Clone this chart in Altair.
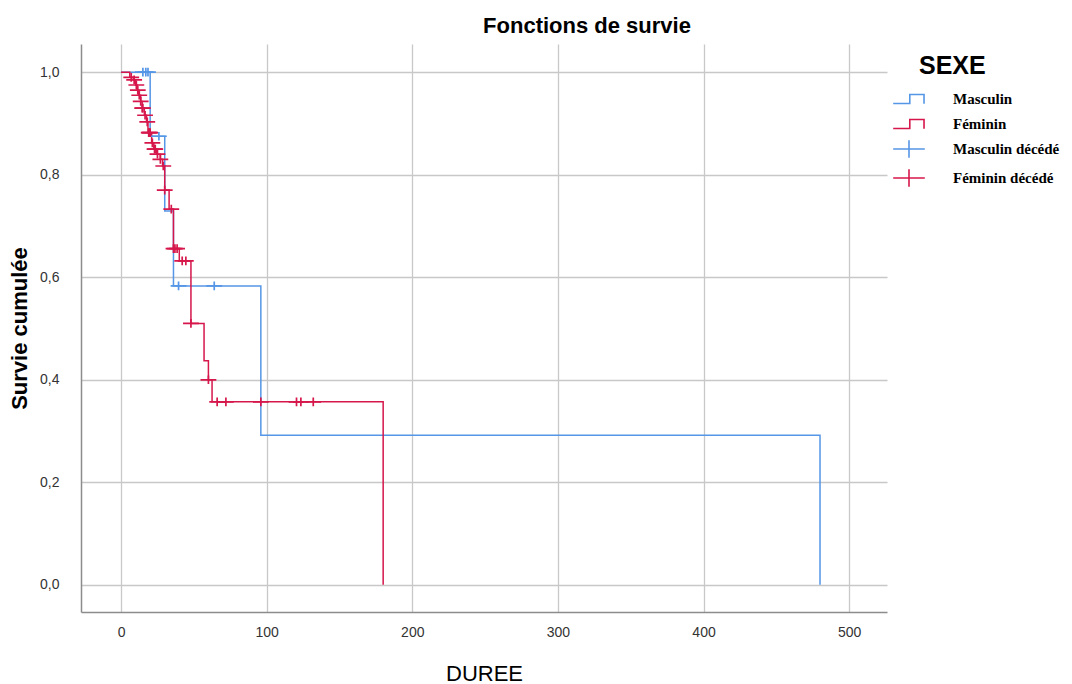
import altair as alt
import pandas as pd

# ---- data ----
categories = ["Masculin", "Féminin", "Masculin décédé", "Féminin décédé"]

# Kaplan-Meier steps (time of drop, survival after drop)
m_time = [0, 20, 30, 36, 96, 480]
m_surv = [1.0, 0.875, 0.729, 0.583, 0.292, 0.0]
m_cens_time = [15, 17, 18.5, 26, 39.5, 64]
m_cens_surv = [1.0, 1.0, 1.0, 0.875, 0.583, 0.583]

f_time = [0, 6, 8.5, 10, 11, 12, 13.5, 14.5, 16, 17.5, 18.5, 21, 22.5, 24.5, 27,
          28.5, 30, 33, 36, 40, 48, 57, 60, 62.5, 180]
f_surv = [1.0, 0.99, 0.985, 0.975, 0.965, 0.955, 0.943, 0.93, 0.916, 0.903, 0.882,
          0.862, 0.85, 0.84, 0.83, 0.817, 0.77, 0.733, 0.656, 0.632, 0.51, 0.437,
          0.40, 0.357, 0.0]
f_cens_time = [7, 9, 10.5, 11.5, 12.5, 13.5, 14.5, 15, 16.5, 18, 19, 19.5, 20, 21.5,
               23, 23.5, 25, 27, 29, 30, 34.5, 36, 37, 38.5, 42, 44.5, 48, 60, 66,
               72, 96, 120.5, 123.5, 132]
f_cens_surv = [0.99, 0.985, 0.975, 0.965, 0.955, 0.943, 0.93, 0.93, 0.916, 0.903,
               0.882, 0.882, 0.882, 0.862, 0.85, 0.85, 0.84, 0.83, 0.817, 0.77,
               0.733, 0.656, 0.656, 0.656, 0.632, 0.632, 0.51, 0.40, 0.357, 0.357,
               0.357, 0.357, 0.357, 0.357]

x_ticks = [0, 100, 200, 300, 400, 500]
y_ticks = [0.0, 0.2, 0.4, 0.6, 0.8, 1.0]

colors = ["#5596e6", "#d6174b", "#5596e6", "#d6174b"]
step_path = "M-1,0.28L0.05,0.28L0.05,-0.28L0.95,-0.28L0.95,0.3"
cross_path = "M-1,0L1,0M0,-0.55L0,0.55"
shapes = [step_path, step_path, cross_path, cross_path]

lines_df = pd.concat([
    pd.DataFrame({"t": m_time, "s": m_surv, "cat": categories[0]}),
    pd.DataFrame({"t": f_time, "s": f_surv, "cat": categories[1]}),
], ignore_index=True)
cens_df = pd.concat([
    pd.DataFrame({"t": m_cens_time, "s": m_cens_surv, "cat": categories[2]}),
    pd.DataFrame({"t": f_cens_time, "s": f_cens_surv, "cat": categories[3]}),
], ignore_index=True)

color_scale = alt.Scale(domain=categories, range=colors)
shape_scale = alt.Scale(domain=categories, range=shapes)
line_scale = alt.Scale(domain=categories[:2], range=colors[:2])

x_enc = alt.X("t:Q", scale=alt.Scale(domain=[-27.5, 526], nice=False, zero=False),
              axis=alt.Axis(values=x_ticks, title="DUREE", labelPadding=13,
                            titlePadding=24, titleFontSize=22,
                            titleFontWeight="normal", format="d"))
y_enc = alt.Y("s:Q", scale=alt.Scale(domain=[-0.053, 1.055], nice=False, zero=False),
              axis=alt.Axis(values=y_ticks, title="Survie cumulée",
                            labelExpr="replace(format(datum.value, '.1f'), '.', ',')",
                            labelPadding=22, titlePadding=8, titleFontSize=22,
                            titleFontWeight="bold"))

lines = alt.Chart(lines_df).mark_line(interpolate="step-after", strokeWidth=1.5).encode(
    x=x_enc, y=y_enc,
    stroke=alt.Stroke("cat:N", scale=line_scale, legend=None),
)

legend = alt.Legend(title=None, orient="none", legendX=811, legendY=38,
                    symbolSize=1000, symbolStrokeWidth=1.6, labelFont="Liberation Serif",
                    labelFontWeight="bold", labelFontSize=15, labelColor="#000000",
                    labelOffset=27, rowPadding=0, padding=0)

points = alt.Chart(cens_df).mark_point(filled=False, size=250, strokeWidth=1.7, opacity=1).encode(
    x="t:Q", y="s:Q",
    color=alt.Color("cat:N", scale=color_scale, legend=legend),
    shape=alt.Shape("cat:N", scale=shape_scale, legend=legend),
)

sexe = alt.Chart(pd.DataFrame({"label": ["SEXE"]})).mark_text(
    align="left", baseline="middle", fontSize=25, fontWeight="bold",
    font="Liberation Sans", color="#000000"
).encode(x=alt.value(838), y=alt.value(22), text="label:N")

chart = alt.layer(lines, points, sexe).properties(
    width=806, height=568,
    title=alt.TitleParams("Fonctions de survie", fontSize=22, fontWeight="bold",
                          font="Liberation Sans", dx=103, offset=6, anchor="middle",
                          color="#000000"),
    padding={"left": 8, "top": 15, "right": 5, "bottom": 5},
).configure_view(stroke=None).configure_axis(
    domainColor="#8c8c8c", domainWidth=1.5, gridColor="#c8c8c8", gridWidth=1.3,
    ticks=False, labelFont="Liberation Sans", labelFontSize=14, labelColor="#333333",
    titleFont="Liberation Sans", titleColor="#000000",
)

chart.save("out.html", embed_options={"renderer": "svg", "actions": False})
